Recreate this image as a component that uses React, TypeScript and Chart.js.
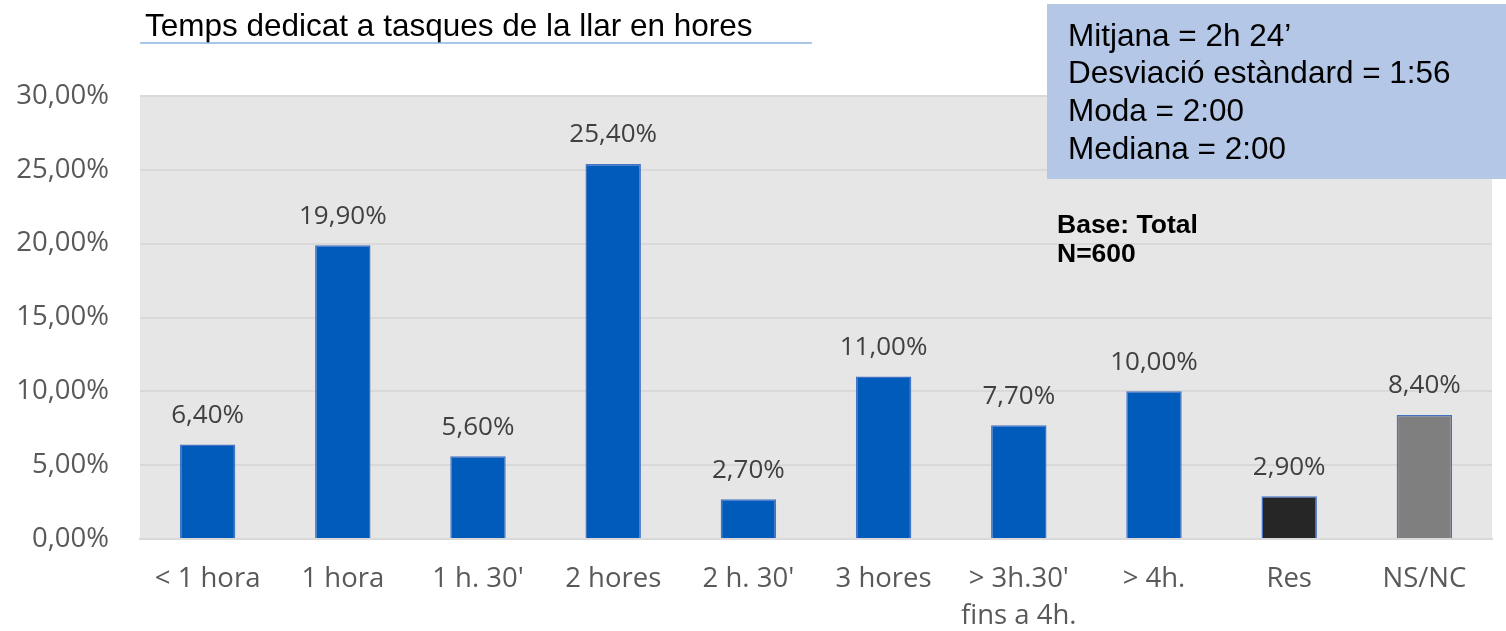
import React, { useEffect, useRef } from "react";
import { Chart, registerables } from "chart.js";

Chart.register(...registerables);

const categories: (string | string[])[] = [
  "< 1 hora",
  "1 hora",
  "1 h. 30'",
  "2 hores",
  "2 h. 30'",
  "3 hores",
  ["> 3h.30'", "fins a 4h."],
  "> 4h.",
  "Res",
  "NS/NC",
];
const values: number[] = [6.4, 19.9, 5.6, 25.4, 2.7, 11.0, 7.7, 10.0, 2.9, 8.4];
const barColors: string[] = [
  "#005bbb", "#005bbb", "#005bbb", "#005bbb", "#005bbb",
  "#005bbb", "#005bbb", "#005bbb", "#262626", "#7f7f7f",
];
const titleText = "Temps dedicat a tasques de la llar en hores";
const statsLines: string[] = [
  "Mitjana = 2h 24\u2019",
  "Desviació estàndard = 1:56",
  "Moda = 2:00",
  "Mediana = 2:00",
];
const baseLines: string[] = ["Base: Total", "N=600"];

const fmt = (v: number) => v.toFixed(2).replace(".", ",") + "%";

const W = 1506;
const H = 631;
const AREA = { left: 140, right: 1492, top: 96, bottom: 539 };

export default function App() {
  const ref = useRef<HTMLCanvasElement | null>(null);

  useEffect(() => {
    document.body.style.margin = "0";
    const canvas = ref.current;
    if (!canvas) return;

    const decor = {
      id: "decor",
      beforeDraw(chart: any) {
        const { ctx, chartArea } = chart;
        ctx.save();
        ctx.fillStyle = "#ffffff";
        ctx.fillRect(0, 0, chart.width, chart.height);
        ctx.fillStyle = "#e6e6e6";
        ctx.fillRect(chartArea.left, chartArea.top, chartArea.right - chartArea.left, chartArea.bottom - chartArea.top);
        ctx.restore();
      },
      afterDatasetsDraw(chart: any) {
        const { ctx } = chart;
        const meta = chart.getDatasetMeta(0);
        ctx.save();
        ctx.font = '26px "Open Sans"';
        ctx.fillStyle = "#404040";
        ctx.textAlign = "center";
        ctx.textBaseline = "middle";
        meta.data.forEach((el: any, i: number) => {
          ctx.fillText(fmt(values[i]), el.x, el.y - 29);
        });
        ctx.restore();
      },
      afterDraw(chart: any) {
        const { ctx } = chart;
        ctx.save();
        // title
        ctx.font = '31.5px "Liberation Sans", Arial';
        ctx.fillStyle = "#000000";
        ctx.textAlign = "left";
        ctx.textBaseline = "middle";
        ctx.fillText(titleText, 145, 27);
        ctx.strokeStyle = "#8db4e2";
        ctx.lineWidth = 1.5;
        ctx.beginPath();
        ctx.moveTo(140, 43);
        ctx.lineTo(812, 43);
        ctx.stroke();
        // stats box
        ctx.fillStyle = "#b4c7e7";
        ctx.fillRect(1047, 4, W - 1047, 175);
        ctx.fillStyle = "#000000";
        ctx.font = '31.5px "Liberation Sans", Arial';
        statsLines.forEach((t, i) => ctx.fillText(t, 1068, 37 + i * 37.7));
        // base
        ctx.font = 'bold 26.5px "Liberation Sans", Arial';
        baseLines.forEach((t, i) => ctx.fillText(t, 1057, 226 + i * 29));
        ctx.restore();
      },
    };

    const chart = new Chart(canvas, {
      type: "bar",
      data: {
        labels: categories,
        datasets: [
          {
            data: values,
            backgroundColor: barColors,
            borderColor: "#4472c4",
            borderWidth: 1.5,
            barPercentage: 0.41,
            categoryPercentage: 1,
          },
        ],
      },
      options: {
        responsive: false,
        animation: false,
        devicePixelRatio: 1,
        layout: {
          padding: { left: 0, right: W - AREA.right, top: AREA.top, bottom: 0 },
        },
        plugins: {
          legend: { display: false },
          tooltip: { enabled: false },
          title: { display: false },
        },
        scales: {
          x: {
            grid: { display: false, drawTicks: false },
            border: { display: true, color: "#d9d9d9", width: 2 },
            ticks: {
              color: "#595959",
              font: { family: "Open Sans", size: 27.5, lineHeight: 1.33 },
              padding: 22,
              maxRotation: 0,
              autoSkip: false,
            },
            afterFit(scale: any) {
              scale.height = H - AREA.bottom;
            },
          },
          y: {
            min: 0,
            max: 30,
            grid: { color: "#d9d9d9", lineWidth: 2, drawTicks: false },
            border: { display: false },
            ticks: {
              stepSize: 5,
              color: "#595959",
              font: { family: "Open Sans", size: 27.5 },
              padding: 31,
              callback: (v: any) => fmt(Number(v)),
            },
            afterFit(scale: any) {
              scale.width = AREA.left;
            },
          },
        },
      },
      plugins: [decor],
    });

    return () => chart.destroy();
  }, []);

  return (
    <div style={{ width: W, height: H }}>
      <canvas ref={ref} width={W} height={H} style={{ display: "block" }} />
    </div>
  );
}
